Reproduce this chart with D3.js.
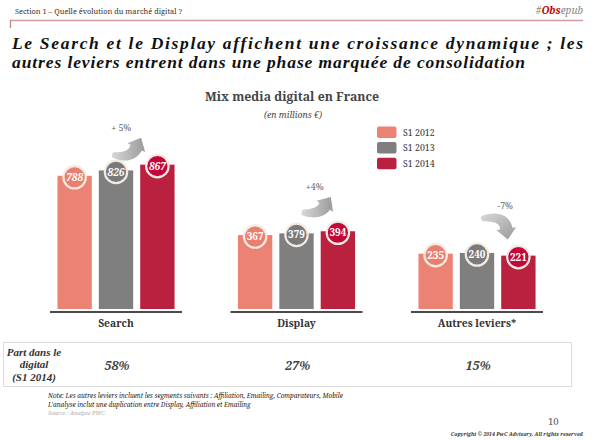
<!DOCTYPE html>
<html><head><meta charset="utf-8">
<script src="https://cdn.jsdelivr.net/npm/d3@7"></script>
<style>body{margin:0;background:#fff} svg{display:block}</style>
</head><body>
<svg id="c" width="595" height="440"></svg>
<script>
// ---- data ----
const categories = ["Search", "Display", "Autres leviers*"];
const seriesNames = ["S1 2012", "S1 2013", "S1 2014"];
const values2012 = [788, 367, 235];
const values2013 = [826, 379, 240];
const values2014 = [867, 394, 221];
const growthLabels = ["+ 5%", "+4%", "-7%"];
const shareLabels = ["58%", "27%", "15%"];
const shareHeader = ["Part dans le", "digital", "(S1 2014)"];
const noteLines = [
  "Note: Les autres leviers incluent les segments suivants : Affiliation, Emailing, Comparateurs, Mobile",
  "L'analyse inclut une duplication entre Display, Affiliation et Emailing"
];

const seriesValues = [values2012, values2013, values2014];
const barColors = ["#eb8274", "#7f7f7f", "#b9213f"];
const badgeColors = ["#ea7f70", "#7a7a7a", "#c4073a"];
const serif = "'Noto Serif', 'Liberation Serif', serif";
const serif2 = "'Liberation Serif', serif";

const svg = d3.select("#c");
const defs = svg.append("defs");
const grad = defs.append("linearGradient").attr("id", "ag")
  .attr("x1", 0).attr("y1", 0).attr("x2", 1).attr("y2", 0);
grad.append("stop").attr("offset", "0%").attr("stop-color", "#d8d8d8");
grad.append("stop").attr("offset", "100%").attr("stop-color", "#9a9a9a");
const gradV = defs.append("linearGradient").attr("id", "agv")
  .attr("x1", 0).attr("y1", 0).attr("x2", 1).attr("y2", 1);
gradV.append("stop").attr("offset", "0%").attr("stop-color", "#d8d8d8");
gradV.append("stop").attr("offset", "100%").attr("stop-color", "#9a9a9a");

// ---- header ----
svg.append("text").attr("x", 15).attr("y", 14)
  .style("font-family", serif).style("font-size", "7.4px").attr("fill", "#333")
  .text("Section 1 – Quelle évolution du marché digital ?");
const brand = svg.append("text").attr("x", 583).attr("y", 14).attr("text-anchor", "end")
  .style("font-family", serif).style("font-size", "10px").style("font-style", "italic");
brand.append("tspan").attr("fill", "#888").text("#");
brand.append("tspan").attr("fill", "#c00000").style("font-weight", "bold").text("Obs");
brand.append("tspan").attr("fill", "#888").text("epub");
svg.append("line").attr("x1", 10).attr("x2", 583).attr("y1", 20.5).attr("y2", 20.5)
  .attr("stroke", "#d39b9e").attr("stroke-width", 1.3);
svg.append("line").attr("x1", 10.5).attr("x2", 10.5).attr("y1", 20).attr("y2", 28)
  .attr("stroke", "#c98489").attr("stroke-width", 1.3);

// ---- title ----
const titleLines = [
  {t: "Le Search et le Display affichent une croissance dynamique ; les", len: 571},
  {t: "autres leviers entrent dans une phase marquée de consolidation", len: 513}
];
titleLines.forEach((l, i) => {
  svg.append("text").attr("x", 12).attr("y", 48.5 + i * 19.6)
    .attr("textLength", l.len).attr("lengthAdjust", "spacing")
    .style("font-family", serif2).style("font-size", "17.5px")
    .style("font-weight", "bold").style("font-style", "italic").attr("fill", "#111")
    .text(l.t);
});

// ---- chart title ----
svg.append("text").attr("x", 292).attr("y", 101).attr("text-anchor", "middle")
  .style("font-family", serif).style("font-size", "12.3px").style("font-weight", "bold")
  .attr("fill", "#444").text("Mix media digital en France");
svg.append("text").attr("x", 293).attr("y", 118).attr("text-anchor", "middle")
  .style("font-family", serif).style("font-size", "8.8px").style("font-style", "italic")
  .attr("fill", "#444").text("(en millions €)");

// ---- legend ----
const lg = svg.append("g");
seriesNames.forEach((s, i) => {
  lg.append("rect").attr("x", 377).attr("y", 126.5 + i * 15.6).attr("width", 19.5).attr("height", 11.5)
    .attr("rx", 2).attr("fill", barColors[i]);
  lg.append("text").attr("x", 403).attr("y", 135.5 + i * 15.6)
    .style("font-family", serif).style("font-size", "8.8px").attr("fill", "#333").text(s);
});

// ---- scales ----
const x0 = d3.scaleBand().domain(categories).range([50, 543]).paddingInner(0.2687).paddingOuter(0);
const x1 = d3.scaleBand().domain(seriesNames).range([0, x0.bandwidth()]).paddingInner(0.17).paddingOuter(0.18);
const baseY = 309;
const y = d3.scaleLinear().domain([-158, 900]).range([baseY, 160]);

const groups = svg.append("g").selectAll("g").data(categories).join("g")
  .attr("transform", d => `translate(${x0(d)},0)`);

groups.each(function(cat, ci) {
  const g = d3.select(this);
  seriesNames.forEach((s, si) => {
    const v = seriesValues[si][ci];
    g.append("rect").attr("x", x1(s)).attr("y", y(v))
      .attr("width", x1.bandwidth()).attr("height", baseY - y(v))
      .attr("fill", barColors[si]);
  });
  g.append("line").attr("x1", 0).attr("x2", x0.bandwidth())
    .attr("y1", baseY + 3).attr("y2", baseY + 3)
    .attr("stroke", "#4a4a4a").attr("stroke-width", 2);
  g.append("text").attr("x", x0.bandwidth() / 2).attr("y", baseY + 18).attr("text-anchor", "middle")
    .style("font-family", serif).style("font-size", "10.3px").style("font-weight", "bold")
    .attr("fill", "#333").text(cat);
  seriesNames.forEach((s, si) => {
    const v = seriesValues[si][ci];
    const cx = x1(s) + x1.bandwidth() / 2, cy = y(v) + 1.5;
    g.append("circle").attr("cx", cx).attr("cy", cy).attr("r", 11.2)
      .attr("fill", badgeColors[si]).attr("stroke", "#f3ebe2").attr("stroke-width", 2.2);
    g.append("text").attr("x", cx).attr("y", cy).attr("dy", "0.36em").attr("text-anchor", "middle")
      .style("font-family", serif).style("font-size", "10px").style("font-weight", "bold")
      .style("font-style", ci === 0 ? "italic" : "normal")
      .attr("fill", "#fff").text(v);
  });
});

// ---- growth arrows ----
function arrowPath(p0, p1, p2, headLen, bodyHalf, headHalf) {
  const N = 28, left = [], right = [];
  for (let i = 0; i <= N; i++) {
    const t = i / N;
    const px = (1 - t) * (1 - t) * p0[0] + 2 * (1 - t) * t * p1[0] + t * t * p2[0];
    const py = (1 - t) * (1 - t) * p0[1] + 2 * (1 - t) * t * p1[1] + t * t * p2[1];
    const dx = 2 * (1 - t) * (p1[0] - p0[0]) + 2 * t * (p2[0] - p1[0]);
    const dy = 2 * (1 - t) * (p1[1] - p0[1]) + 2 * t * (p2[1] - p1[1]);
    const L = Math.hypot(dx, dy), nx = -dy / L, ny = dx / L;
    const w = bodyHalf * (0.3 + 0.7 * Math.sqrt(t));
    left.push([px + nx * w, py + ny * w]);
    right.push([px - nx * w, py - ny * w]);
  }
  const dx = p2[0] - p1[0], dy = p2[1] - p1[1], L = Math.hypot(dx, dy);
  const ux = dx / L, uy = dy / L, nx = -uy, ny = ux;
  const tip = [p2[0] + ux * headLen, p2[1] + uy * headLen];
  const hl = [p2[0] + nx * headHalf, p2[1] + ny * headHalf];
  const hr = [p2[0] - nx * headHalf, p2[1] - ny * headHalf];
  const pts = [...left, hl, tip, hr, ...right.reverse()];
  return "M" + pts.map(p => p[0].toFixed(2) + "," + p[1].toFixed(2)).join("L") + "Z";
}
// arrow geometry relative to the S1 2014 bar of each group
const arrowGeom = [
  {p0: [-28, -10], p1: [-10, -5], p2: [-4, -17], lab: [-19, -34], grad: "ag"},
  {p0: [-19, -19], p1: [-2, -16], p2: [4, -25], lab: [-6, -41], grad: "ag"},
  {p0: [-20, -37], p1: [3, -41], p2: [5, -27], lab: [4, -47], grad: "agv"}
];
categories.forEach((cat, ci) => {
  const bx = x0(cat) + x1(seriesNames[2]);
  const by = y(values2014[ci]);
  const a = arrowGeom[ci];
  const P = p => [bx + p[0], by + p[1]];
  svg.append("path").attr("d", arrowPath(P(a.p0), P(a.p1), P(a.p2), 11, 6.3, 10))
    .attr("fill", `url(#${a.grad})`);
  svg.append("text").attr("x", bx + a.lab[0]).attr("y", by + a.lab[1]).attr("text-anchor", "middle")
    .style("font-family", serif).style("font-size", "8.8px").attr("fill", "#666")
    .text(growthLabels[ci]);
});

// ---- share table ----
svg.append("rect").attr("x", 3.5).attr("y", 342.5).attr("width", 568).attr("height", 44)
  .attr("fill", "none").attr("stroke", "#dcdcdc").attr("stroke-width", 1);
shareHeader.forEach((t, i) => {
  svg.append("text").attr("x", 34).attr("y", 356 + i * 12.3).attr("text-anchor", "middle")
    .style("font-family", serif2).style("font-size", "11px").style("font-weight", "bold")
    .style("font-style", "italic").attr("fill", "#333").text(t);
});
categories.forEach((cat, ci) => {
  svg.append("text").attr("x", x0(cat) + x0.bandwidth() / 2 + 1).attr("y", 370).attr("text-anchor", "middle")
    .style("font-family", serif).style("font-size", "12.5px").style("font-weight", "bold")
    .style("font-style", "italic").attr("fill", "#444").text(shareLabels[ci]);
});

// ---- notes ----
noteLines.forEach((t, i) => {
  svg.append("text").attr("x", 48).attr("y", 398 + i * 8.5)
    .style("font-family", serif).style("font-size", "6.4px").style("font-style", "italic")
    .attr("fill", "#222").text(t);
});
svg.append("text").attr("x", 48).attr("y", 415)
  .style("font-family", serif).style("font-size", "5.6px").style("font-style", "italic")
  .attr("fill", "#aaa").text("Source : Analyse PWC.");
svg.append("text").attr("x", 548).attr("y", 425)
  .style("font-family", serif).style("font-size", "9.5px").attr("fill", "#555").text("10");
svg.append("text").attr("x", 583).attr("y", 436).attr("text-anchor", "end")
  .style("font-family", serif).style("font-size", "5.1px").style("font-style", "italic")
  .style("font-weight", "bold").attr("fill", "#333")
  .text("Copyright © 2014 PwC Advisory. All rights reserved");
</script>
</body></html>
